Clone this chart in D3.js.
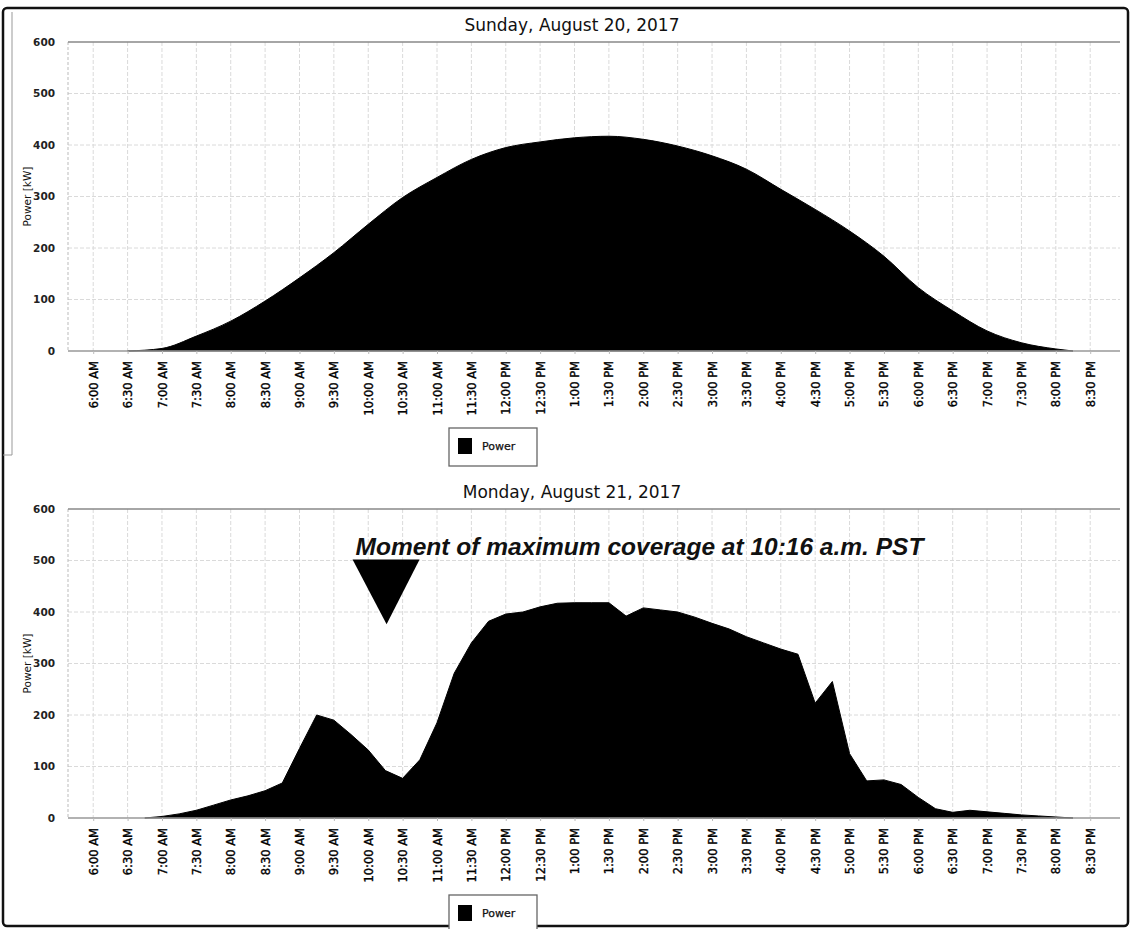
<!DOCTYPE html>
<html>
<head>
<meta charset="utf-8">
<script src="https://cdn.jsdelivr.net/npm/d3@7"></script>
<style>
  body { margin: 0; background: #fff; }
  svg { display: block; font-family: "DejaVu Sans", Verdana, sans-serif; }
</style>
</head>
<body>
<svg width="1132" height="929"></svg>
<script>
// tick labels along the time axis
const tickLabels = ['6:00 AM','6:30 AM','7:00 AM','7:30 AM','8:00 AM','8:30 AM','9:00 AM','9:30 AM',
  '10:00 AM','10:30 AM','11:00 AM','11:30 AM','12:00 PM','12:30 PM','1:00 PM','1:30 PM','2:00 PM',
  '2:30 PM','3:00 PM','3:30 PM','4:00 PM','4:30 PM','5:00 PM','5:30 PM','6:00 PM','6:30 PM',
  '7:00 PM','7:30 PM','8:00 PM','8:30 PM'];
const powerTicks = [0, 100, 200, 300, 400, 500, 600];

// Sunday, August 20 (normal day)
const sundayTimes = ['6:30 AM','7:00 AM','7:30 AM','8:00 AM','8:30 AM','9:00 AM','9:30 AM','10:00 AM',
  '10:30 AM','11:00 AM','11:30 AM','12:00 PM','12:30 PM','1:00 PM','1:30 PM','2:00 PM','2:30 PM',
  '3:00 PM','3:30 PM','4:00 PM','4:30 PM','5:00 PM','5:30 PM','6:00 PM','6:30 PM','7:00 PM',
  '7:30 PM','8:00 PM','8:15 PM'];
const sundayPower = [0, 5, 29, 58, 97, 142, 191, 246, 298, 337, 372, 395, 406, 414, 417, 411, 398,
  379, 353, 314, 275, 233, 184, 123, 78, 39, 16, 4, 0];

// Monday, August 21 (eclipse day), 15 minute readings
const mondayTimes = ['6:45 AM','7:00 AM','7:15 AM','7:30 AM','7:45 AM','8:00 AM','8:15 AM','8:30 AM',
  '8:45 AM','9:00 AM','9:15 AM','9:30 AM','9:45 AM','10:00 AM','10:15 AM','10:30 AM','10:45 AM',
  '11:00 AM','11:15 AM','11:30 AM','11:45 AM','12:00 PM','12:15 PM','12:30 PM','12:45 PM','1:00 PM',
  '1:15 PM','1:30 PM','1:45 PM','2:00 PM','2:15 PM','2:30 PM','2:45 PM','3:00 PM','3:15 PM','3:30 PM',
  '3:45 PM','4:00 PM','4:15 PM','4:30 PM','4:45 PM','5:00 PM','5:15 PM','5:30 PM','5:45 PM','6:00 PM',
  '6:15 PM','6:30 PM','6:45 PM','7:00 PM','7:15 PM','7:30 PM','7:45 PM','8:00 PM','8:15 PM'];
const mondayPower = [0, 3, 8, 15, 25, 35, 43, 53, 68, 135, 200, 190, 162, 132, 92, 77, 113,
  185, 281, 340, 382, 396, 400, 410, 417, 418, 418, 418, 392, 408, 404, 400, 390, 378, 367, 352,
  340, 328, 318, 223, 265, 125, 72, 74, 65, 40, 18, 11, 15, 12, 9, 6, 4, 2, 0];

const annotationText = 'Moment of maximum coverage at 10:16 a.m. PST';
const annotationTime = '10:16 AM';

const parseTime = d3.timeParse('%I:%M %p');
const svg = d3.select('svg');

const x = d3.scaleTime()
  .domain([parseTime('5:38 AM'), parseTime('8:56 PM')])
  .range([68, 1120]);

// outer frame
svg.append('rect')
  .attr('x', 3).attr('y', 8).attr('width', 1125).attr('height', 918)
  .attr('rx', 4)
  .attr('fill', 'none').attr('stroke', '#111').attr('stroke-width', 2.5);
svg.append('path')
  .attr('d', 'M12,12V455H3')
  .attr('fill', 'none').attr('stroke', '#999').attr('stroke-width', 1);

const drawPanel = (opts) => {
  const y = d3.scaleLinear().domain([0, 600]).range([opts.zero, opts.top]);
  const g = svg.append('g');

  g.append('text')
    .text(opts.title)
    .attr('x', 572).attr('y', opts.top - 11)
    .attr('text-anchor', 'middle')
    .attr('font-size', 17).attr('fill', '#111');

  // grid
  g.append('g').selectAll('line').data(powerTicks.slice(1, -1))
    .enter().append('line')
    .attr('x1', 68).attr('x2', 1120)
    .attr('y1', d => y(d)).attr('y2', d => y(d))
    .attr('stroke', '#dadada').attr('stroke-dasharray', '4,2');
  g.append('g').selectAll('line').data(tickLabels)
    .enter().append('line')
    .attr('x1', d => x(parseTime(d))).attr('x2', d => x(parseTime(d)))
    .attr('y1', opts.top).attr('y2', opts.zero)
    .attr('stroke', '#dadada').attr('stroke-dasharray', '4,2');
  g.append('line')
    .attr('x1', 68).attr('x2', 68).attr('y1', opts.top).attr('y2', opts.zero)
    .attr('stroke', '#bbb').attr('stroke-dasharray', '3,2');
  g.append('line')
    .attr('x1', 68).attr('x2', 1120).attr('y1', opts.top).attr('y2', opts.top)
    .attr('stroke', '#888').attr('stroke-width', 1.5);

  // area
  const area = d3.area()
    .x(d => x(parseTime(d[0])))
    .y0(y(0))
    .y1(d => y(d[1]))
    .curve(opts.curve);
  g.append('path')
    .datum(d3.zip(opts.times, opts.values))
    .attr('d', area)
    .attr('fill', '#000').attr('stroke', '#000').attr('stroke-width', 1);

  // y axis
  g.append('g')
    .attr('transform', 'translate(59,0)')
    .call(d3.axisLeft(y).tickValues(powerTicks).tickSize(0).tickPadding(4))
    .call(a => a.select('.domain').remove())
    .selectAll('text')
    .attr('font-family', '"DejaVu Sans", Verdana, sans-serif')
    .attr('font-size', 10.5).attr('font-weight', 'bold').attr('fill', '#222');

  g.append('text')
    .text('Power [kW]')
    .attr('transform', `translate(31,${(opts.top + opts.zero) / 2}) rotate(-90)`)
    .attr('text-anchor', 'middle')
    .attr('font-size', 10.5).attr('fill', '#111');

  // x axis
  const xAxis = g.append('g')
    .attr('transform', `translate(0,${opts.zero})`)
    .call(d3.axisBottom(x).tickValues(tickLabels.map(parseTime)).tickSize(3)
      .tickFormat((d, i) => tickLabels[i]));
  xAxis.select('.domain')
    .attr('d', 'M68,0H1120').attr('stroke', '#999').attr('stroke-width', 1.5);
  xAxis.selectAll('.tick line').attr('stroke', '#bbb');
  xAxis.selectAll('text')
    .attr('font-family', '"DejaVu Sans", Verdana, sans-serif')
    .attr('font-size', 11.5).attr('fill', '#000')
    .attr('stroke', '#000').attr('stroke-width', 0.35)
    .attr('text-anchor', 'end')
    .attr('transform', 'rotate(-90)')
    .attr('x', -10).attr('y', 0).attr('dy', '0.35em');

  // legend
  const lg = g.append('g').attr('transform', `translate(449,${opts.legendY})`);
  lg.append('rect').attr('width', 88).attr('height', 38)
    .attr('fill', '#fff').attr('stroke', '#666').attr('stroke-width', 1.3);
  lg.append('rect').attr('x', 9).attr('y', 10).attr('width', 14).attr('height', 16).attr('fill', '#000');
  lg.append('text').text('Power').attr('x', 33).attr('y', 22)
    .attr('font-size', 11).attr('fill', '#111').attr('stroke', '#111').attr('stroke-width', 0.25);

  return y;
};

drawPanel({
  top: 42, zero: 351, title: 'Sunday, August 20, 2017',
  times: sundayTimes, values: sundayPower, curve: d3.curveMonotoneX, legendY: 428
});

const yMon = drawPanel({
  top: 509, zero: 818, title: 'Monday, August 21, 2017',
  times: mondayTimes, values: mondayPower, curve: d3.curveLinear, legendY: 895
});

// eclipse annotation
const ax = x(parseTime(annotationTime));
svg.append('path')
  .attr('d', `M${ax - 34},${yMon(502)}L${ax + 33},${yMon(502)}L${ax},${yMon(376)}Z`)
  .attr('fill', '#000');
svg.append('text')
  .text(annotationText)
  .attr('x', ax - 31).attr('y', yMon(510))
  .attr('font-family', '"Liberation Sans", Arial, sans-serif')
  .attr('font-size', 24.5).attr('font-weight', 'bold').attr('font-style', 'italic')
  .attr('fill', '#111');
</script>
</body>
</html>
